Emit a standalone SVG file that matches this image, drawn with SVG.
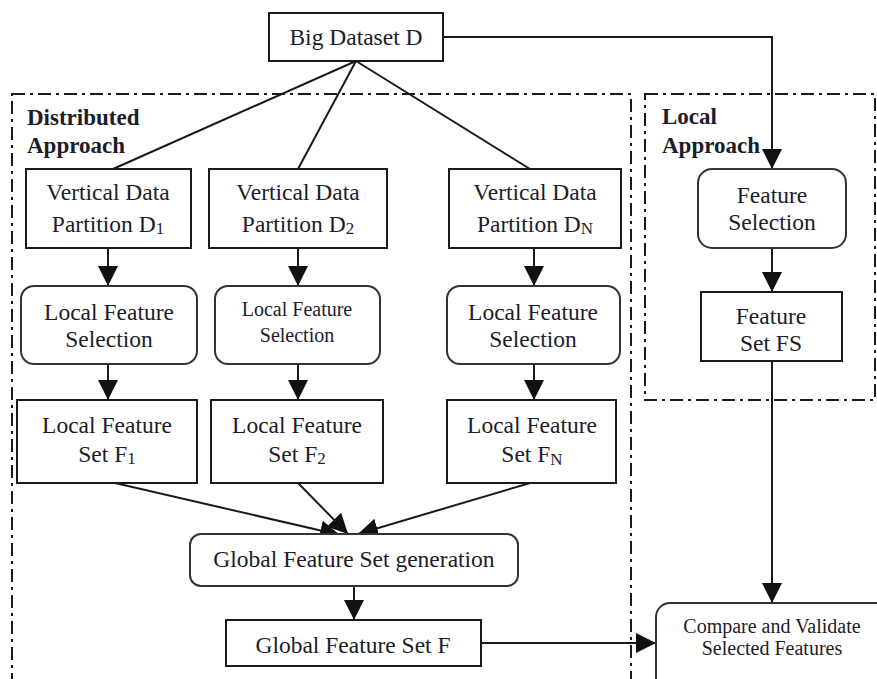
<svg xmlns="http://www.w3.org/2000/svg" width="877" height="679" viewBox="0 0 877 679">
<defs>
<style>
.box{fill:#fff;stroke:#1a1a1a;stroke-width:2}
.rbox{fill:#fff;stroke:#333;stroke-width:2}
.dash{fill:none;stroke:#1a1a1a;stroke-width:2;stroke-dasharray:13 5 3 5}
.ln{fill:none;stroke:#1a1a1a;stroke-width:2}
.ar{fill:none;stroke:#1a1a1a;stroke-width:2;marker-end:url(#ah)}
text{font-family:"Liberation Serif",serif;fill:#1c1c2a;text-anchor:middle;font-size:23.5px}
.lbl{text-anchor:start;font-weight:bold;font-size:23px}
.sm{font-size:20px}
.xs{font-size:20px}
.sub{font-size:17px}
</style>
<marker id="ah" markerUnits="userSpaceOnUse" markerWidth="20" markerHeight="20" viewBox="0 0 20 20" refX="20" refY="10" orient="auto">
<path d="M0,0 L20,10 L0,20 z" fill="#111"/>
</marker>
</defs>

<g id="regions">
<rect class="dash" x="12" y="94" width="619" height="600"/>
<rect class="dash" x="645" y="94" width="230" height="306"/>
<text class="lbl" x="27" y="125">Distributed</text>
<text class="lbl" x="27" y="153">Approach</text>
<text class="lbl" x="662" y="124">Local</text>
<text class="lbl" x="662" y="153">Approach</text>
</g>

<g id="connectors">
<line class="ln" x1="356" y1="61" x2="113" y2="169"/>
<line class="ln" x1="356" y1="61" x2="298" y2="169"/>
<line class="ln" x1="356" y1="61" x2="530" y2="169"/>
<polyline class="ar" points="443,37 772,37 772,169"/>
<line class="ar" x1="108" y1="248" x2="108" y2="286"/>
<line class="ar" x1="298" y1="248" x2="298" y2="286"/>
<line class="ar" x1="534" y1="248" x2="534" y2="286"/>
<line class="ar" x1="108" y1="364" x2="108" y2="400"/>
<line class="ar" x1="298" y1="364" x2="298" y2="400"/>
<line class="ar" x1="534" y1="364" x2="534" y2="400"/>
<line class="ar" x1="772" y1="248" x2="772" y2="292"/>
<line class="ar" x1="115" y1="483" x2="340" y2="535"/>
<line class="ar" x1="298" y1="483" x2="348" y2="534"/>
<line class="ar" x1="530" y1="483" x2="358" y2="534"/>
<line class="ar" x1="354" y1="586" x2="354" y2="620"/>
<line class="ar" x1="772" y1="361" x2="772" y2="603"/>
<line class="ar" x1="481" y1="643" x2="656" y2="643"/>
</g>

<g id="big-dataset">
<rect class="box" x="269" y="13" width="174" height="48"/>
<text x="356" y="45">Big Dataset D</text>
</g>

<g id="vdp-1">
<rect class="box" x="26" y="169" width="165" height="79"/>
<text x="108" y="200">Vertical Data</text>
<text x="108" y="232">Partition D<tspan class="sub" dy="2">1</tspan></text>
</g>
<g id="vdp-2">
<rect class="box" x="209" y="169" width="178" height="79"/>
<text x="298" y="200">Vertical Data</text>
<text x="298" y="232">Partition D<tspan class="sub" dy="2">2</tspan></text>
</g>
<g id="vdp-n">
<rect class="box" x="449" y="169" width="172" height="79"/>
<text x="535" y="200">Vertical Data</text>
<text x="535" y="232">Partition D<tspan class="sub" dy="2">N</tspan></text>
</g>

<g id="lfs-1">
<rect class="rbox" x="21" y="286" width="176" height="78" rx="13"/>
<text x="109" y="320">Local Feature</text>
<text x="109" y="347">Selection</text>
</g>
<g id="lfs-2">
<rect class="rbox" x="215" y="286" width="165" height="78" rx="13"/>
<text class="sm" x="297" y="316">Local Feature</text>
<text class="sm" x="297" y="342">Selection</text>
</g>
<g id="lfs-n">
<rect class="rbox" x="447" y="286" width="173" height="78" rx="13"/>
<text x="533" y="320">Local Feature</text>
<text x="533" y="347">Selection</text>
</g>

<g id="lfset-1">
<rect class="box" x="17" y="400" width="180" height="83"/>
<text x="107" y="433">Local Feature</text>
<text x="107" y="462">Set F<tspan class="sub" dy="2">1</tspan></text>
</g>
<g id="lfset-2">
<rect class="box" x="211" y="400" width="172" height="83"/>
<text x="297" y="433">Local Feature</text>
<text x="297" y="462">Set F<tspan class="sub" dy="2">2</tspan></text>
</g>
<g id="lfset-n">
<rect class="box" x="447" y="400" width="169" height="83"/>
<text x="532" y="433">Local Feature</text>
<text x="532" y="462">Set F<tspan class="sub" dy="3">N</tspan></text>
</g>

<g id="feature-selection">
<rect class="rbox" x="698" y="169" width="148" height="79" rx="14"/>
<text x="772" y="203">Feature</text>
<text x="772" y="230">Selection</text>
</g>
<g id="feature-set-fs">
<rect class="box" x="701" y="292" width="141" height="69"/>
<text x="771" y="324">Feature</text>
<text x="771" y="351">Set FS</text>
</g>

<g id="global-gen">
<rect class="rbox" x="190" y="534" width="328" height="52" rx="11"/>
<text x="354" y="567">Global Feature Set generation</text>
</g>
<g id="global-set">
<rect class="box" x="226" y="620" width="255" height="46"/>
<text x="353" y="653">Global Feature Set F</text>
</g>

<g id="compare">
<rect class="rbox" x="656" y="603" width="240" height="100" rx="14"/>
<text class="xs" x="772" y="633">Compare and Validate</text>
<text class="xs" x="772" y="655">Selected Features</text>
</g>
</svg>
